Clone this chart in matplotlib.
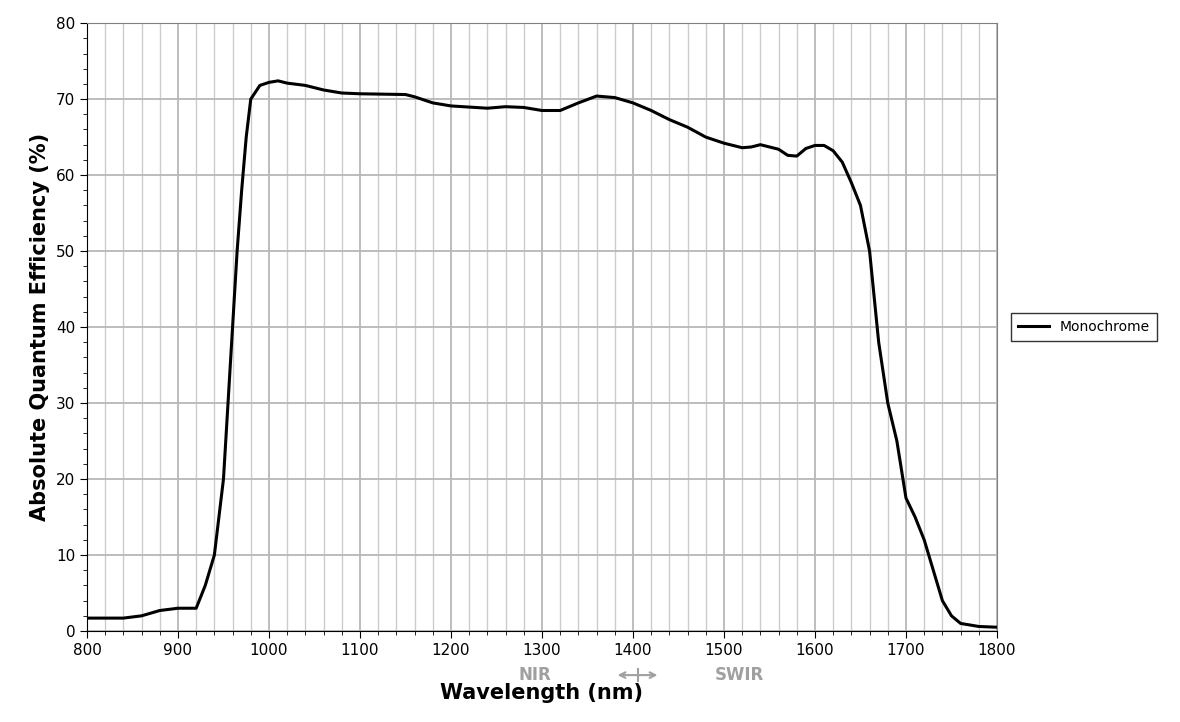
import matplotlib

matplotlib.use("Agg")

import matplotlib.pyplot as plt
from matplotlib.ticker import MultipleLocator

wavelength_nm = [800, 840, 860, 880, 900, 920, 930, 940, 950, 955, 960, 965, 970, 975, 980,
                 990, 1000, 1010, 1020, 1040, 1060, 1080, 1100, 1150, 1160, 1180, 1200, 1240,
                 1260, 1280, 1300, 1320, 1340, 1360, 1380, 1400, 1420, 1440, 1460, 1480, 1500,
                 1520, 1530, 1540, 1560, 1570, 1580, 1590, 1600, 1610, 1620, 1630, 1640, 1650,
                 1660, 1670, 1680, 1690, 1700, 1710, 1720, 1730, 1740, 1750, 1760, 1780, 1800]
qe_percent = [1.7, 1.7, 2.0, 2.7, 3.0, 3.0, 6.0, 10.0, 20.0, 30.0, 40.0, 50.0, 58.0, 65.0, 70.0,
              71.8, 72.2, 72.4, 72.1, 71.8, 71.2, 70.8, 70.7, 70.6, 70.3, 69.5, 69.1, 68.8,
              69.0, 68.9, 68.5, 68.5, 69.5, 70.4, 70.2, 69.5, 68.5, 67.3, 66.3, 65.0, 64.2,
              63.6, 63.7, 64.0, 63.4, 62.6, 62.5, 63.5, 63.9, 63.9, 63.2, 61.7, 59.0, 56.0,
              50.0, 38.0, 30.0, 25.0, 17.5, 15.0, 12.0, 8.0, 4.0, 2.0, 1.0, 0.6, 0.5]

fig = plt.figure(figsize=(11.8, 7.22), dpi=100)
ax = fig.add_axes([0.0737, 0.126, 0.7712, 0.842])

ax.plot(wavelength_nm, qe_percent, color="black", linewidth=2.2, label="Monochrome")

ax.set_xlim(800, 1800)
ax.set_ylim(0, 80)
ax.xaxis.set_major_locator(MultipleLocator(100))
ax.xaxis.set_minor_locator(MultipleLocator(20))
ax.yaxis.set_major_locator(MultipleLocator(10))
ax.yaxis.set_minor_locator(MultipleLocator(2))
ax.grid(which="major", color="#b8b8b8", linewidth=1.3)
ax.grid(which="minor", axis="x", color="#cccccc", linewidth=1.0)
ax.set_axisbelow(True)
ax.tick_params(which="both", direction="out", labelsize=11)
ax.tick_params(which="major", length=5)
ax.tick_params(which="minor", length=3)
for spine in ax.spines.values():
    spine.set_color("#808080")
ax.spines["left"].set_color("black")
ax.spines["bottom"].set_color("black")

ax.set_xlabel("Wavelength (nm)", fontsize=15, fontweight="bold", labelpad=18)
ax.set_ylabel("Absolute Quantum Efficiency (%)", fontsize=15, fontweight="bold")

ax.text(1310, -5.8, "NIR", ha="right", va="center", fontsize=12, fontweight="bold", color="#a0a0a0")
ax.text(1490, -5.8, "SWIR", ha="left", va="center", fontsize=12, fontweight="bold", color="#a0a0a0")
ax.annotate("", xy=(1380, -5.8), xytext=(1430, -5.8), xycoords="data",
            arrowprops=dict(arrowstyle="<->", color="#a0a0a0", lw=1.5), annotation_clip=False)
ax.plot([1405, 1405], [-6.6, -5.0], color="#a0a0a0", lw=1.5, clip_on=False)

ax.legend(loc="center left", bbox_to_anchor=(1.008, 0.5), frameon=True, fancybox=False,
          edgecolor="black", fontsize=10, handlelength=2.2, borderpad=0.5)

fig.savefig("out.png", dpi=100, facecolor="white")
